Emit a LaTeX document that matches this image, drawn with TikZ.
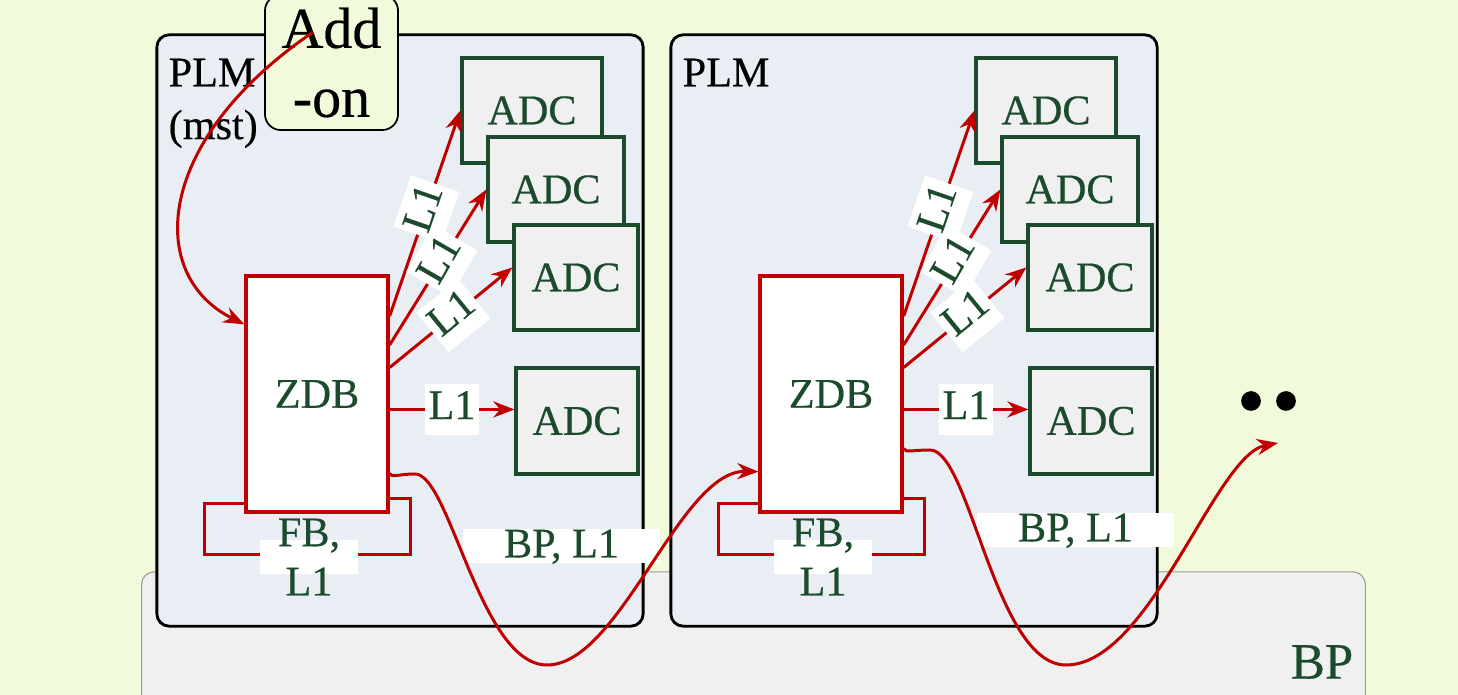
\documentclass[tikz,border=0pt]{standalone}
\usepackage{fontspec}
\setmainfont{Liberation Serif}[FakeBold=0.4]
\usetikzlibrary{positioning, calc, arrows.meta}

\definecolor{bggreen}{HTML}{F2FADC}
\definecolor{plmblue}{HTML}{E9EEF5}
\definecolor{panelgray}{HTML}{F0F0F0}
\definecolor{darkgreen}{HTML}{1B4A2C}
\definecolor{wirered}{HTML}{C00000}

\newcommand{\labfont}{\fontsize{12}{14}\selectfont}

\tikzset{
  plmbox/.style={draw=black, line width=0.8pt, fill=plmblue, rounded corners=3.5pt, inner sep=0pt},
  adcbox/.style={draw=darkgreen, line width=0.9pt, fill=panelgray, text=darkgreen,
    font=\labfont, minimum height=1.05cm, inner sep=0pt},
  zdbbox/.style={draw=wirered, line width=0.9pt, fill=white, text=darkgreen,
    font=\labfont, minimum width=1.42cm, minimum height=2.36cm, inner sep=0pt},
  wire/.style={draw=wirered, line width=0.85pt},
  wirearrow/.style={wire, -{Stealth[length=6pt, width=4.6pt]}},
  lonetag/.style={fill=white, text=darkgreen, font=\labfont, inner xsep=1pt,
    inner ysep=0pt, text height=10pt, text depth=4.5pt},
  bptag/.style={fill=white, text=darkgreen, font=\labfont, inner sep=0pt,
    minimum width=1.97cm, text height=8pt, text depth=1.5pt},
}

\begin{document}
\begin{tikzpicture}[x=0.01cm, y=-0.01cm]

  % Canvas and backplane.
  \useasboundingbox (0,0) rectangle (1458,695);
  \fill[bggreen] (0,0) rectangle (1458,695);
  \node[draw=gray!80, line width=0.3pt, fill=panelgray, rounded corners=3.5pt,
    minimum width=12.23cm, minimum height=1.6cm, inner sep=0pt] (bp) at (753.5,652) {};
  \node[text=darkgreen, font=\fontsize{14.5}{16}\selectfont, inner sep=0pt] (bpname) at (1322,662) {BP};

  % Two PLM boards, the second one shifted to the right.
  \foreach \p/\dx/\ly/\plmtext in {1/0/546/{PLM\\(mst)}, 2/514/530/{PLM}} {
    \begin{scope}[shift={(\dx,0)}]
      \node[plmbox, minimum width=4.86cm, minimum height=5.91cm] (plm\p) at (400,330.5) {};
      \node[anchor=north west, align=left, inner sep=0pt, font=\fontsize{12}{15}\selectfont]
        (plmname\p) at (168,58) {\plmtext};

      % ADC stack and the single ADC.
      \node[adcbox, minimum width=1.40cm] (adcA\p) at (532,110.5) {ADC};
      \node[adcbox, minimum width=1.36cm] (adcB\p) at (556,189.5) {ADC};
      \node[adcbox, minimum width=1.24cm] (adcC\p) at (576,277.5) {ADC};
      \node[adcbox, minimum width=1.22cm, minimum height=1.06cm] (adcD\p) at (577,421) {ADC};

      \node[zdbbox] (zdb\p) at (317,394) {ZDB};

      % Feedback loop below the ZDB.
      \draw[wire] ($(zdb\p.south west)+(0,-10)$) -- ++(-40,0) -- ++(0,51)
        -- ++(206,0) -- ++(0,-56) -- ($(zdb\p.south east)+(0,-15)$);
      \node[fill=white, inner sep=0pt, minimum width=0.98cm, minimum height=0.34cm]
        (fbbox\p) at (309,557) {};
      \node[align=center, inner sep=0pt, text=darkgreen, font=\labfont] (fb\p) at (fbbox\p) {FB,\\L1};

      % L1 links to the ADCs.
      \draw[wirearrow] (zdb\p.47) -- (adcA\p.west) node[lonetag, pos=0.52, sloped] {L1};
      \draw[wirearrow] (zdb\p.34) -- (adcB\p.west) node[lonetag, pos=0.54, rotate=60] {L1};
      \draw[wirearrow] (zdb\p.20) -- (adcC\p.171) node[lonetag, pos=0.52, sloped] {L1};
      \draw[wirearrow] (zdb\p.-12) -- (zdb\p.-12 -| adcD\p.west) node[lonetag, pos=0.5] {L1};

      \node[bptag] (bptag\p) at (561.5,\ly) {BP, L1};
    \end{scope}
  }

  % Add-on card on top of the master PLM.
  \node[draw=black, line width=0.5pt, fill=bggreen, rounded corners=4.5pt, align=center,
    minimum width=1.33cm, minimum height=1.35cm, inner sep=0pt,
    font=\fontsize{16.5}{19.6}\selectfont] (addon) at (331.5,62.5) {Add\\-on};

  % More boards follow.
  \coordinate (more) at (1278,443);
  \fill (1251,401) circle[radius=2.8pt];
  \fill (1286,401) circle[radius=2.8pt];

  % Links between the boards.
  \draw[wirearrow] ($(addon.center)+(-19,-30)$) .. controls (155,140) and (145,275)
    .. ($(zdb1.north west)+(0,50)$);
  \draw[wirearrow] ($(zdb1.south east)+(0,-40)$) .. controls (392,478) and (398,474) .. (415,474)
    .. controls (450,474) and (480,665) .. (547,665)
    .. controls (620,665) and (680,470) .. ($(zdb2.south west)+(0,-42)$);
  \draw[wirearrow] ($(zdb2.south east)+(0,-65)$) .. controls (906,453) and (912,450) .. (930,450)
    .. controls (970,450) and (995,665) .. (1066,665)
    .. controls (1150,665) and (1215,455) .. (more);

\end{tikzpicture}
\end{document}
